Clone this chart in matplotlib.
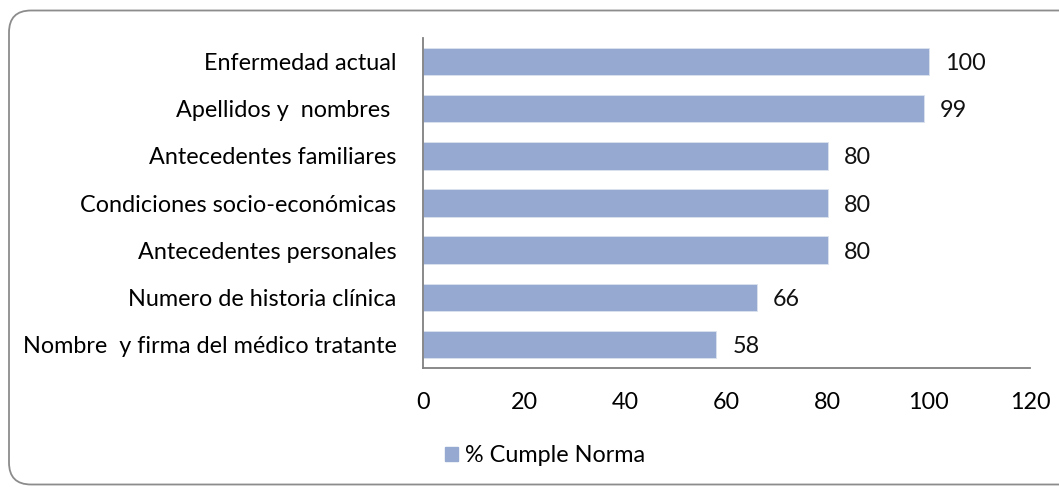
import matplotlib.pyplot as plt
from matplotlib.patches import FancyBboxPatch, Patch

categories = ["Nombre  y firma del médico tratante", "Numero de historia clínica",
              "Antecedentes personales", "Condiciones socio-económicas",
              "Antecedentes familiares", "Apellidos y  nombres ", "Enfermedad actual"]
values = [58, 66, 80, 80, 80, 99, 100]
xticks = [0, 20, 40, 60, 80, 100, 120]
bar_color = "#95A9D1"
fsize = 16.8

plt.rcParams['font.family'] = ['Lato', 'DejaVu Sans']

fig = plt.figure(figsize=(10.59, 4.87), dpi=100)

# rounded frame (in inches, runs off the right edge like the original)
frame = FancyBboxPatch((0.09, 0.025), 11.0, 4.74,
                       boxstyle="round,pad=0,rounding_size=0.22",
                       transform=fig.dpi_scale_trans, fill=False,
                       edgecolor="#8c8c8c", linewidth=1.3)
fig.patches.append(frame)

ax = fig.add_axes([423 / 1059, 119 / 487, 607 / 1059, 330 / 487])
y = range(len(categories))
ax.barh(y, values, height=0.58, color=bar_color, edgecolor="#dde3ef", linewidth=0.6)
for yi, v in zip(y, values):
    ax.text(v + 3.2, yi, str(v), va="center_baseline", ha="left", fontsize=fsize, color="#111111")

ax.set_xlim(0, 120)
ax.set_ylim(-0.5, len(categories) - 0.5)
ax.set_yticks(list(y))
ax.set_yticklabels(categories, fontsize=fsize)
ax.set_xticks(xticks)
ax.set_xticklabels([str(t) for t in xticks], fontsize=fsize)
ax.tick_params(axis="both", length=0)
ax.tick_params(axis="x", pad=17)
ax.tick_params(axis="y", pad=19)
for s in ["top", "right"]:
    ax.spines[s].set_visible(False)
for s in ["left", "bottom"]:
    ax.spines[s].set_color("#808080")
    ax.spines[s].set_linewidth(1.3)

fig.legend(handles=[Patch(color=bar_color, label="% Cumple Norma")],
           loc="center", bbox_to_anchor=(545 / 1059, 1 - 456 / 487), frameon=False,
           fontsize=fsize, handlelength=0.55, handleheight=0.55, handletextpad=0.3)

fig.savefig("out.png", dpi=100)
